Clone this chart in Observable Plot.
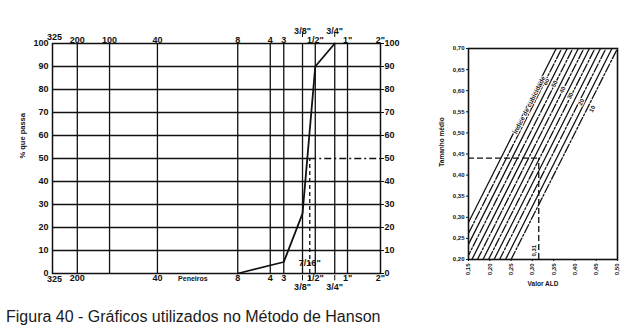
<!DOCTYPE html>
<html><head><meta charset="utf-8">
<script src="https://cdn.jsdelivr.net/npm/d3@7"></script>
<script src="https://cdn.jsdelivr.net/npm/@observablehq/plot@0.6"></script>
<style>
body{margin:0;background:#fff;}
#wrap{position:relative;width:625px;height:330px;overflow:hidden;background:#fff;}
#left{position:absolute;left:0;top:0;}
#right{position:absolute;left:420px;top:0;}
#cap{position:absolute;left:6px;top:308px;font:16px/18px "Liberation Sans",Arial,sans-serif;color:#1a1a1a;white-space:nowrap;}
</style></head><body>
<div id="wrap"><div id="left"></div><div id="right"></div><div id="cap">Figura 40 - Gráficos utilizados no Método de Hanson</div></div>
<script>
// ---------- Left chart data (sieve openings in mm, % passing) ----------
const gridSieveMM = [0.075, 0.15, 0.42, 2.36, 4.75, 6.35, 9.5, 12.5, 19, 25];
const sieveDomainMM = [0.044, 50.8];
const passTicks = [0, 10, 20, 30, 40, 50, 60, 70, 80, 90, 100];
const topLabels = ["325", "200", "100", "40", "8", "4", "3", "1/2\"", "1\"", "2\""];
const topLabelMM = [0.044, 0.075, 0.15, 0.42, 2.36, 4.75, 6.35, 12.5, 25, 50.8];
const topUpperLabels = ["3/8\"", "3/4\""];
const topUpperMM = [9.5, 19];
const bottomLabels = ["325", "200", "40", "8", "4", "3", "1/2\"", "1\"", "2\""];
const bottomLabelMM = [0.044, 0.075, 0.42, 2.36, 4.75, 6.35, 12.5, 25, 50.8];
const bottomLowerLabels = ["3/8\"", "3/4\""];
const bottomLowerMM = [9.5, 19];
const gradMM = [2.36, 6.35, 9.5, 12.5, 19];
const gradPass = [0, 5, 26, 90, 100];
const d50MM = 11.1;
const d50Label = "7/16\"";
const d50Pass = 50;
const sieveTitle = "Peneiros";
const sieveTitleMM = 0.9;
const passTitle = "% que passa";

// ---------- Right chart data (ALD value vs mean size) ----------
const aldTicks = [0.15, 0.20, 0.25, 0.30, 0.35, 0.40, 0.45, 0.50];
const sizeTicks = [0.20, 0.25, 0.30, 0.35, 0.40, 0.45, 0.50, 0.55, 0.60, 0.65, 0.70];
const lineALDatBottom = [0.106, 0.119, 0.132, 0.145, 0.158, 0.171, 0.184, 0.197, 0.210, 0.223, 0.237, 0.250];
const lineALDatTop    = [0.356, 0.369, 0.382, 0.395, 0.408, 0.421, 0.434, 0.447, 0.460, 0.473, 0.487, 0.500];
const lineIndex = ["", "60", "", "50", "", "40", "", "30", "", "20", "", "10"];
const indexLabels = ["60", "50", "40", "30", "20", "10"];
const indexLabelALD = [0.333, 0.352, 0.371, 0.389, 0.415, 0.441];
const indexLabelSize = [0.621, 0.616, 0.602, 0.588, 0.573, 0.557];
const indexTitle = "Índice de cubicidade";
const aldResult = 0.315;
const aldResultLabel = "0,31";
const sizeResult = 0.44;

const FONT = "'Liberation Sans',Arial,sans-serif";
const INK = "#111";

// ---------- Left chart ----------
const gradData = gradMM.map((m, i) => ({mm: m, pass: gradPass[i]}));
const left = Plot.plot({
  width: 420, height: 300,
  marginLeft: 52, marginRight: 40, marginTop: 43, marginBottom: 27,
  x: {type: "log", domain: sieveDomainMM, axis: null},
  y: {domain: [0, 100], axis: null},
  style: {fontFamily: FONT, fontSize: "9px", fontWeight: "bold", color: INK, background: "transparent"},
  marks: [
    Plot.ruleX(gridSieveMM, {stroke: INK, strokeWidth: 1.3}),
    Plot.ruleY(passTicks.filter(v => v > 0 && v < 100 && v !== d50Pass), {stroke: INK, strokeWidth: 1.3}),
    Plot.ruleY([d50Pass], {x1: sieveDomainMM[0], x2: d50MM, stroke: INK, strokeWidth: 1.3}),
    Plot.ruleY([d50Pass], {x1: d50MM, x2: sieveDomainMM[1], stroke: INK, strokeWidth: 1.3, strokeDasharray: "7,3,2,3"}),
    Plot.ruleX([d50MM], {y1: -3, y2: d50Pass, stroke: INK, strokeWidth: 1.3, strokeDasharray: "4,3"}),
    Plot.frame({stroke: INK, strokeWidth: 1.5}),
    Plot.line(gradData, {x: "mm", y: "pass", stroke: INK, strokeWidth: 1.8}),
    Plot.axisY({anchor: "left", ticks: passTicks, tickSize: 0, tickPadding: 4, label: null, tickFormat: d => d}),
    Plot.axisY({anchor: "right", ticks: passTicks, tickSize: 3, tickPadding: 1, label: null, tickFormat: d => d}),
    // top labels
    Plot.text(topLabels.slice(0, 1), {x: (d, i) => topLabelMM[i], frameAnchor: "top", dy: -10, dx: 2, text: d => d}),
    Plot.text(topLabels.slice(1), {x: (d, i) => topLabelMM[i + 1], frameAnchor: "top", dy: -7, text: d => d}),
    Plot.text(topUpperLabels, {x: (d, i) => topUpperMM[i], frameAnchor: "top", dy: -16, text: d => d}),
    Plot.ruleX(topUpperMM, {y1: 102.6, y2: 104.8, stroke: INK, strokeWidth: 1}),
    // bottom labels
    Plot.text(bottomLabels.slice(0, 1), {x: (d, i) => bottomLabelMM[i], frameAnchor: "bottom", dy: 8, dx: 2, text: d => d}),
    Plot.text(bottomLabels.slice(1), {x: (d, i) => bottomLabelMM[i + 1], frameAnchor: "bottom", dy: 7, text: d => d}),
    Plot.text(bottomLowerLabels, {x: (d, i) => bottomLowerMM[i], frameAnchor: "bottom", dy: 16, text: d => d}),
    Plot.ruleX(bottomLowerMM, {y1: -0.8, y2: -3.2, stroke: INK, strokeWidth: 1}),
    Plot.text([d50Label], {x: d50MM, frameAnchor: "bottom", dy: -8, text: d => d}),
    Plot.text([sieveTitle], {x: sieveTitleMM, frameAnchor: "bottom", dy: 7, text: d => d, fontSize: 7}),
    Plot.text([passTitle], {frameAnchor: "left", y: 50, dx: -30, rotate: -90, text: d => d, fontSize: 7.5})
  ]
});
document.getElementById("left").appendChild(left);

// ---------- Right chart ----------
const fmtComma = d => d3.format(".2f")(d).replace(".", ",");
const lineData = lineALDatBottom.flatMap((xb, i) => [
  {id: i, idx: lineIndex[i], ald: xb, size: sizeTicks[0]},
  {id: i, idx: lineIndex[i], ald: lineALDatTop[i], size: sizeTicks[sizeTicks.length - 1]}
]);
const right = Plot.plot({
  width: 205, height: 300,
  marginLeft: 48, marginRight: 8, marginTop: 48, marginBottom: 41,
  x: {domain: [0.15, 0.50], axis: null},
  y: {domain: [0.20, 0.70], axis: null},
  style: {fontFamily: FONT, fontSize: "6px", fontWeight: "bold", color: INK, background: "transparent"},
  marks: [
    Plot.line(lineData.filter(d => d.idx === ""), {x: "ald", y: "size", z: "id", clip: true, stroke: INK, strokeWidth: 1.3}),
    Plot.line(lineData.filter(d => d.idx !== ""), {x: "ald", y: "size", z: "id", clip: true, stroke: INK, strokeWidth: 1.3, strokeDasharray: "9,2,2,2"}),
    Plot.ruleY([sizeResult], {x1: 0.15, x2: aldResult, stroke: INK, strokeWidth: 1.3, strokeDasharray: "6,3"}),
    Plot.ruleX([aldResult], {y1: 0.20, y2: sizeResult, stroke: INK, strokeWidth: 1.3, strokeDasharray: "6,3"}),
    Plot.frame({stroke: INK, strokeWidth: 1.6}),
    Plot.axisY({anchor: "left", ticks: sizeTicks, tickFormat: fmtComma, tickSize: 2, tickPadding: 2, label: null}),
    Plot.axisX({anchor: "bottom", ticks: aldTicks, tickFormat: fmtComma, tickRotate: -90, tickSize: 2, tickPadding: 2, label: null}),
    Plot.text(indexLabels, {x: (d, i) => indexLabelALD[i], y: (d, i) => indexLabelSize[i], text: d => d, rotate: -63, fontSize: 6, stroke: "white", strokeWidth: 2, fill: INK}),
    Plot.text([indexTitle], {x: 0.293, y: 0.566, text: d => d, rotate: -63, fontSize: 6.5, stroke: "white", strokeWidth: 2, fill: INK}),
    Plot.text([aldResultLabel], {x: aldResult, y: 0.20, text: d => d, rotate: -90, textAnchor: "start", dx: -4.5, dy: -3, fontSize: 6}),
    Plot.text(["Tamanho médio"], {frameAnchor: "left", y: 0.42, dx: -27, rotate: -90, text: d => d, fontSize: 6.5}),
    Plot.text(["Valor ALD"], {frameAnchor: "bottom", x: 0.325, dy: 26, text: d => d, fontSize: 6.5})
  ]
});
document.getElementById("right").appendChild(right);
</script>
</body></html>
